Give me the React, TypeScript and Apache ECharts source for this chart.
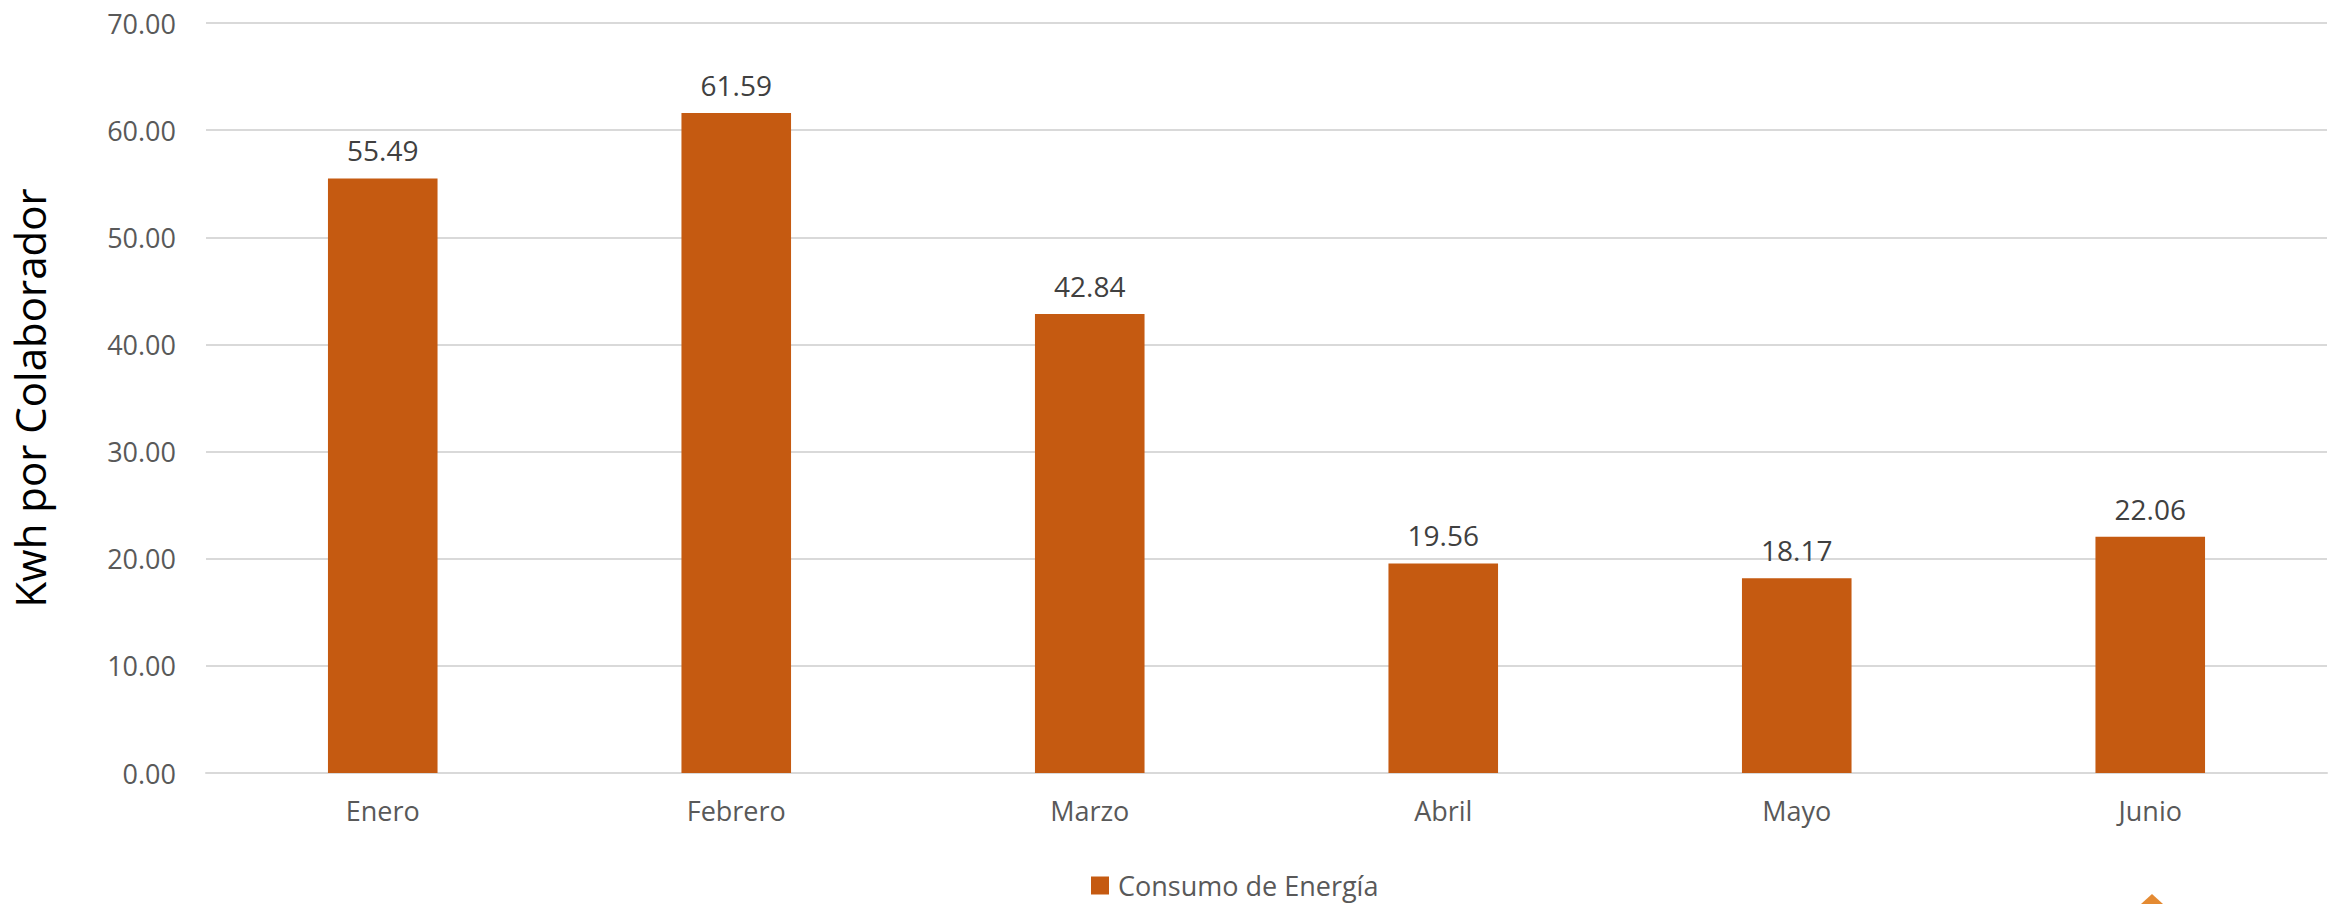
import React, { useEffect, useRef } from "react";
import * as echarts from "echarts";

const categories = ["Enero", "Febrero", "Marzo", "Abril", "Mayo", "Junio"];
const consumo = [55.49, 61.59, 42.84, 19.56, 18.17, 22.06];
const seriesName = "Consumo de Energía";
const yTitle = "Kwh por Colaborador";

export default function App() {
  const ref = useRef<HTMLDivElement>(null);
  useEffect(() => {
    document.body.style.margin = "0";
    const chart = echarts.init(ref.current!, null, { renderer: "svg" });
    const font = "'Open Sans', 'Noto Sans', sans-serif";
    chart.setOption({
      animation: false,
      backgroundColor: "#ffffff",
      textStyle: { fontFamily: font },
      grid: { left: 203, right: 9, top: 23, bottom: 131, containLabel: false },
      legend: {
        data: [seriesName],
        top: 867,
        left: 1086,
        icon: "rect",
        itemWidth: 18,
        itemHeight: 18,
        itemGap: 8,
        textStyle: { fontSize: 27, color: "#595959", fontFamily: font, padding: [0, 0, 0, 4] },
      },
      xAxis: {
        type: "category",
        data: categories,
        axisTick: { show: false },
        axisLine: { show: true, lineStyle: { color: "#D9D9D9", width: 2 } },
        axisLabel: { fontSize: 27, color: "#595959", margin: 24, fontFamily: font },
      },
      yAxis: {
        type: "value",
        min: 0,
        max: 70,
        interval: 10,
        name: yTitle,
        nameLocation: "middle",
        nameRotate: 90,
        nameGap: 156,
        nameTextStyle: { fontSize: 42, color: "#000000", fontFamily: font },
        axisLabel: {
          fontSize: 27,
          color: "#595959",
          margin: 30,
          fontFamily: font,
          formatter: (v: number) => v.toFixed(2),
        },
        splitLine: { lineStyle: { color: "#D9D9D9", width: 2 } },
        axisLine: { show: false },
        axisTick: { show: false },
      },
      series: [
        {
          name: seriesName,
          type: "bar",
          data: consumo,
          barWidth: "31%",
          itemStyle: { color: "#C55A11" },
          label: {
            show: true,
            position: "top",
            distance: 14,
            fontSize: 28,
            color: "#404040",
            fontFamily: font,
            formatter: (p: any) => Number(p.value).toFixed(2),
          },
        },
      ],
      graphic: [
        {
          type: "polygon",
          shape: { points: [[2152, 894], [2141, 904], [2163, 904]] },
          style: { fill: "#E48A32" },
        },
      ],
    });
    return () => chart.dispose();
  }, []);
  return (
    <div
      ref={ref}
      style={{ position: "fixed", left: 0, top: 0, width: 2336, height: 904 }}
    />
  );
}
